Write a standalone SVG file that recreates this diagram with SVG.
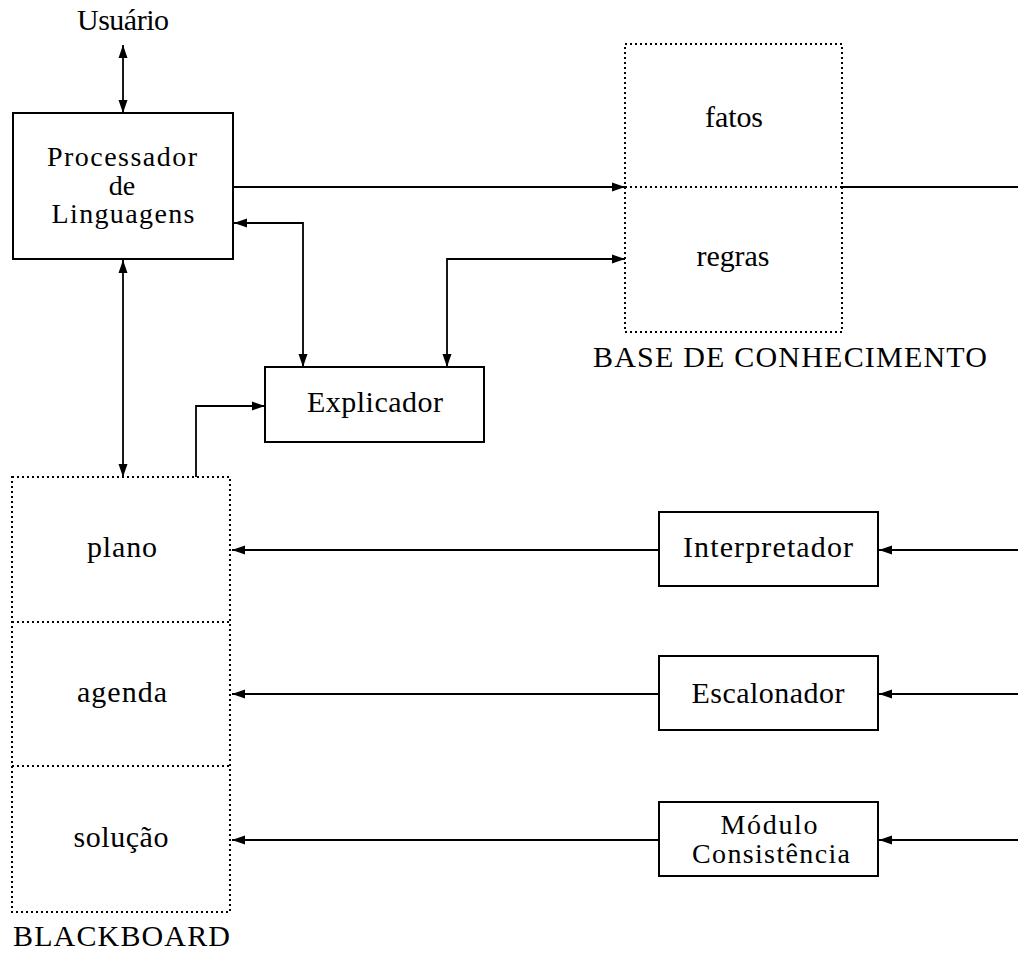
<svg xmlns="http://www.w3.org/2000/svg" width="1018" height="953" viewBox="0 0 1018 953">
<style>
.box{fill:none;stroke:#000;stroke-width:2}
.dot{fill:none;stroke:#000;stroke-width:2;stroke-dasharray:2 3}
.c{fill:none;stroke:#000;stroke-width:1.8}
.m{text-anchor:middle}
</style>
<defs>
<marker id="a" markerUnits="userSpaceOnUse" markerWidth="14" markerHeight="10" refX="13" refY="5" orient="auto-start-reverse">
<path d="M0,0.5 L13,5 L0,9.5 z" fill="#000"/>
</marker>
</defs>
<g id="connectors">
<line class="c" x1="123" y1="45" x2="123" y2="113" marker-start="url(#a)" marker-end="url(#a)"/>
<line class="c" x1="233" y1="187" x2="625" y2="187" marker-end="url(#a)"/>
<line class="c" x1="842" y1="187" x2="1018" y2="187"/>
<path class="c" d="M234,223 H303 V367" marker-start="url(#a)" marker-end="url(#a)"/>
<path class="c" d="M447,367 V259 H625" marker-start="url(#a)" marker-end="url(#a)"/>
<line class="c" x1="123" y1="260" x2="123" y2="477" marker-start="url(#a)" marker-end="url(#a)"/>
<path class="c" d="M196,477 V406 H265" marker-end="url(#a)"/>
<line class="c" x1="659" y1="550" x2="232" y2="550" marker-end="url(#a)"/>
<line class="c" x1="1018" y1="550" x2="879" y2="550" marker-end="url(#a)"/>
<line class="c" x1="659" y1="694" x2="232" y2="694" marker-end="url(#a)"/>
<line class="c" x1="1018" y1="694" x2="879" y2="694" marker-end="url(#a)"/>
<line class="c" x1="659" y1="840" x2="232" y2="840" marker-end="url(#a)"/>
<line class="c" x1="1018" y1="840" x2="879" y2="840" marker-end="url(#a)"/>
</g>
<g font-family="'Liberation Serif', 'Times New Roman', 'DejaVu Serif', serif" font-size="30" fill="#000">
<g id="usuario"><text class="m" x="123" y="30" textLength="92">Usuário</text></g>
<g id="processador">
<rect class="box" x="13" y="113" width="220" height="146"/>
<text class="m" x="122" y="166" font-size="28" textLength="150">Processador</text>
<text class="m" x="122" y="195" font-size="28">de</text>
<text class="m" x="123" y="223" font-size="28" textLength="143">Linguagens</text>
</g>
<g id="base">
<rect class="dot" x="625" y="44" width="217" height="288"/>
<line class="dot" x1="625" y1="187" x2="842" y2="187"/>
<text class="m" x="734" y="127" textLength="58">fatos</text>
<text class="m" x="733" y="266" textLength="73">regras</text>
<text x="593" y="367" textLength="394">BASE DE CONHECIMENTO</text>
</g>
<g id="explicador">
<rect class="box" x="265" y="367" width="219" height="75"/>
<text class="m" x="375" y="412" textLength="136">Explicador</text>
</g>
<g id="blackboard">
<rect class="dot" x="12" y="477" width="218" height="435"/>
<line class="dot" x1="12" y1="622" x2="230" y2="622"/>
<line class="dot" x1="12" y1="766" x2="230" y2="766"/>
<text class="m" x="122" y="557" textLength="70">plano</text>
<text class="m" x="122" y="702" textLength="90">agenda</text>
<text class="m" x="121" y="847" textLength="95">solução</text>
<text x="13" y="946" textLength="217">BLACKBOARD</text>
</g>
<g id="interpretador">
<rect class="box" x="659" y="512" width="219" height="74"/>
<text class="m" x="768" y="557" textLength="170">Interpretador</text>
</g>
<g id="escalonador">
<rect class="box" x="659" y="656" width="219" height="74"/>
<text class="m" x="768" y="703" textLength="153">Escalonador</text>
</g>
<g id="modulo">
<rect class="box" x="659" y="802" width="219" height="74"/>
<text class="m" x="769" y="834" font-size="28" textLength="97">Módulo</text>
<text class="m" x="771" y="863" font-size="28" textLength="158">Consistência</text>
</g>
</g>
</svg>
